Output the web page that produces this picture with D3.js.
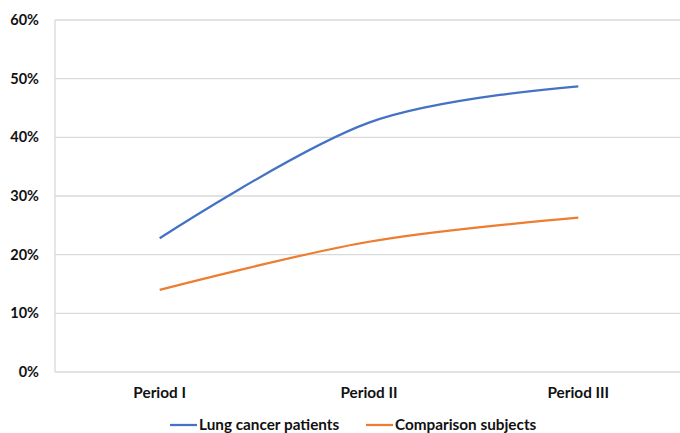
<!DOCTYPE html>
<html><head><meta charset="utf-8">
<script src="https://cdn.jsdelivr.net/npm/d3@7"></script>
<style>body{margin:0;background:#fff}svg{display:block}text{font-family:Lato,"Open Sans",sans-serif;font-weight:bold;fill:#111}</style>
</head><body><svg id="c" width="680" height="433"></svg>
<script>
const categories = ["Period I", "Period II", "Period III"];
const lungCancer = [0.228, 0.425, 0.487];
const comparison = [0.140, 0.222, 0.263];
const yTicks = [0, 0.1, 0.2, 0.3, 0.4, 0.5, 0.6];
const seriesNames = ["Lung cancer patients", "Comparison subjects"];
const seriesColors = ["#4472C4", "#ED7D31"];

const svg = d3.select("#c");
const L = 55, R = 683, T = 20, B = 372;
const x = d3.scalePoint().domain(categories).range([L, R]).padding(0.5);
const y = d3.scaleLinear().domain([0, 0.6]).range([B, T]);

// gridlines
svg.append("g").selectAll("line").data(yTicks).join("line")
  .attr("x1", L).attr("x2", 680).attr("y1", d => y(d)).attr("y2", d => y(d))
  .attr("stroke", "#d9d9d9").attr("stroke-width", 1.3);
svg.append("line").attr("x1", L).attr("x2", L).attr("y1", T).attr("y2", B)
  .attr("stroke", "#d9d9d9").attr("stroke-width", 1.3);

// y labels
svg.append("g").selectAll("text").data(yTicks).join("text")
  .attr("x", 39).attr("y", d => y(d)).attr("dy", "0.35em")
  .attr("text-anchor", "end").attr("font-size", 14.5)
  .text(d3.format(".0%"));

// x labels
svg.append("g").selectAll("text").data(categories).join("text")
  .attr("x", d => x(d)).attr("y", 393).attr("dy", "0.35em")
  .attr("text-anchor", "middle").attr("font-size", 15.3).text(d => d);

const line = d3.line().x((d, i) => x(categories[i])).y(d => y(d)).curve(d3.curveCardinal.tension(0));
[lungCancer, comparison].forEach((s, i) => {
  svg.append("path").attr("d", line(s)).attr("fill", "none")
    .attr("stroke", seriesColors[i]).attr("stroke-width", 2.25);
});

// legend
const legX = [170, 366];
seriesNames.forEach((n, i) => {
  svg.append("line").attr("x1", legX[i]).attr("x2", legX[i] + 27).attr("y1", 425).attr("y2", 425)
    .attr("stroke", seriesColors[i]).attr("stroke-width", 2.25);
  svg.append("text").attr("x", legX[i] + 29).attr("y", 425).attr("dy", "0.35em")
    .attr("font-size", 15.3).text(n);
});
</script></body></html>
